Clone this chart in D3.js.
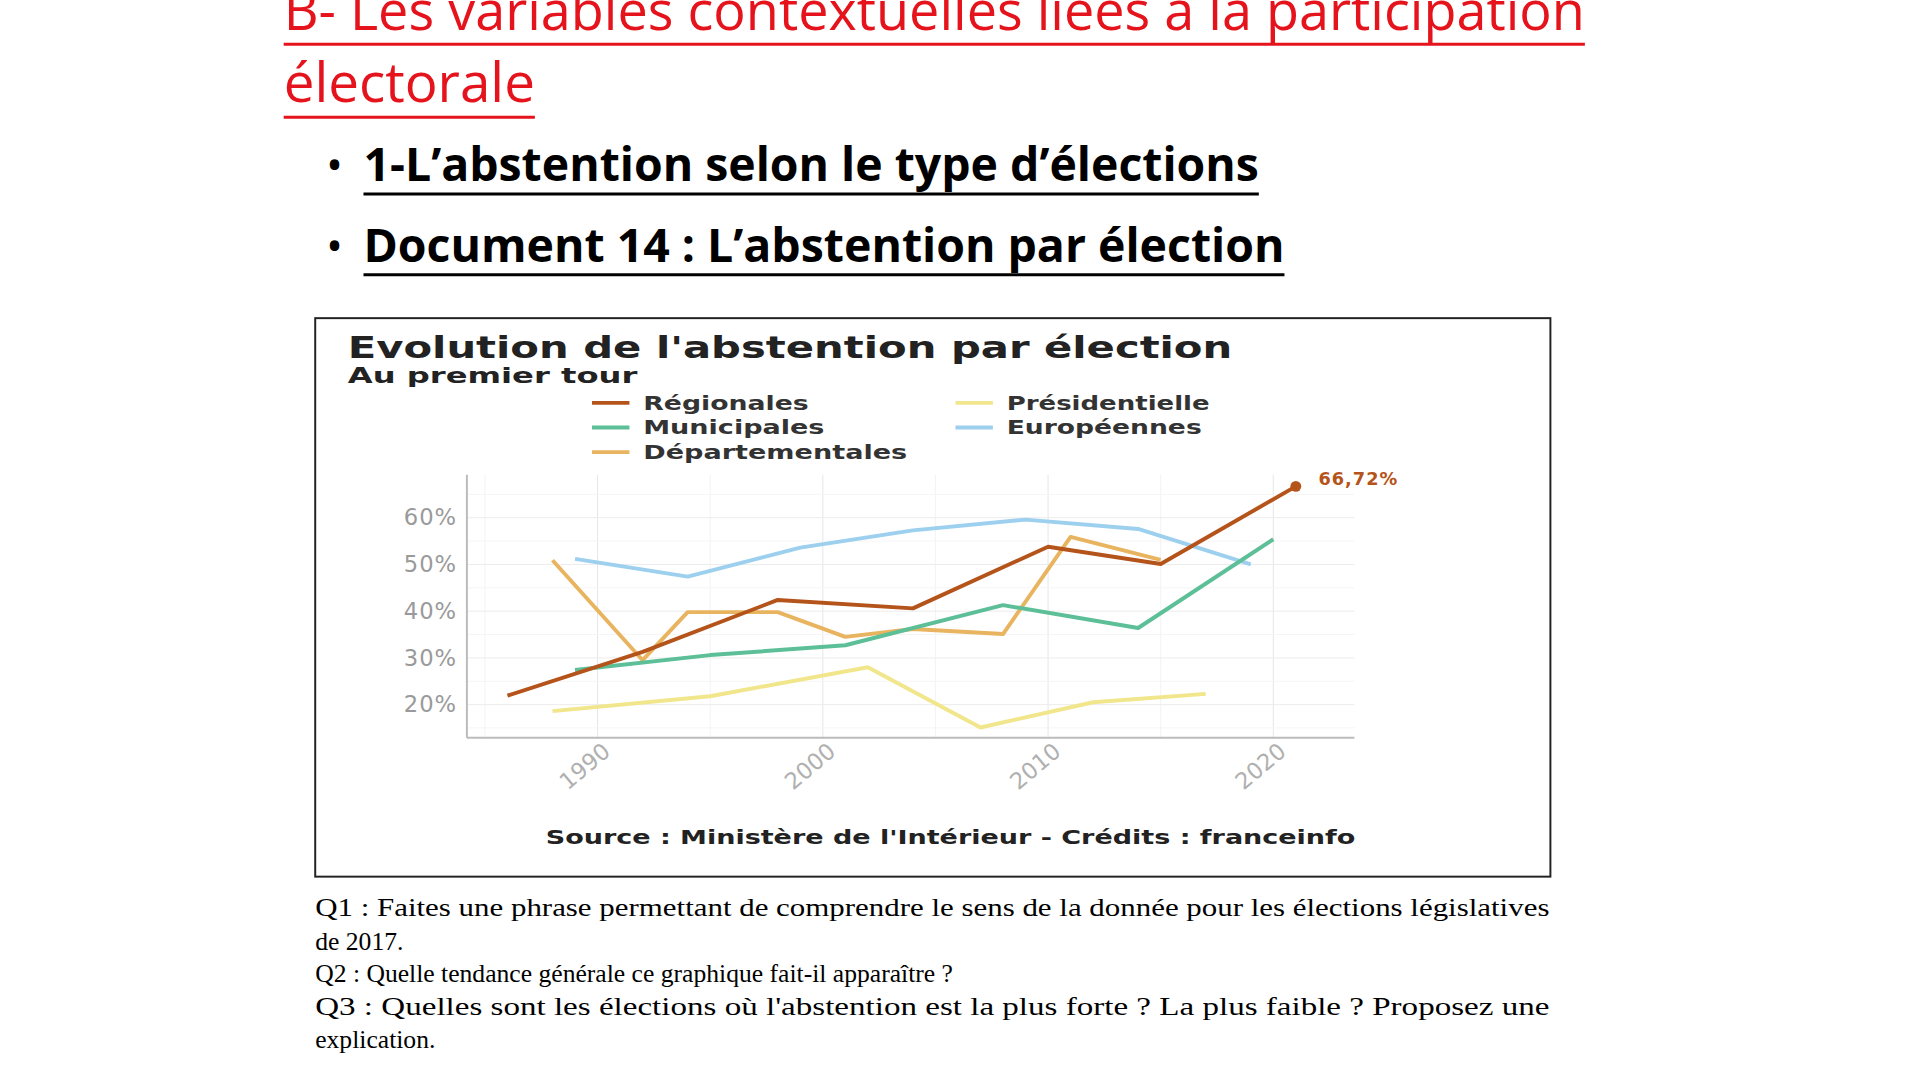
<!DOCTYPE html>
<html><head><meta charset="utf-8">
<script src="https://cdn.jsdelivr.net/npm/d3@7"></script>
<style>body{margin:0;background:#fff}</style></head>
<body><svg id="c" width="1920" height="1080"></svg>
<script>
const regionales = [[1986,21.9],[1992,31.3],[1998,42.4],[2004,40.6],[2010,53.8],[2015,50.1],[2021,66.72]];
const municipales = [[1989,27.4],[1995,30.6],[2001,32.7],[2008,41.3],[2014,36.4],[2020,55.4]];
const departementales = [[1988,50.9],[1992,29.5],[1994,39.8],[1998,39.8],[2001,34.5],[2004,36.2],[2008,35.1],[2011,55.9],[2015,51.0]];
const presidentielle = [[1988,18.6],[1995,21.8],[2002,28.0],[2007,15.1],[2012,20.5],[2017,22.3]];
const europeennes = [[1989,51.2],[1994,47.4],[1999,53.6],[2004,57.3],[2009,59.6],[2014,57.6],[2019,50.0]];
const seriesNames = ["Régionales","Municipales","Départementales","Présidentielle","Européennes"];
const seriesColors = ["#b5541a","#5cbf97","#e9b45f","#f1e68c","#9dd0ee"];
const xTicks = [1990,2000,2010,2020];
const yTicks = [20,30,40,50,60];

const root = d3.select("#c");
const svg = root.append("g").attr("transform","translate(1,0) scale(0.985)");
function txt(x,y,s,size,opt={}){
  const t=svg.append("text").attr("x",x).attr("y",y).text(s).attr("font-size",size)
   .attr("font-family",opt.ff||"Open Sans, sans-serif").attr("fill",opt.fill||"#000")
   .attr("font-weight",opt.fw||"normal");
  if(opt.len) t.attr("textLength",opt.len).attr("lengthAdjust","spacingAndGlyphs");
  if(opt.anchor) t.attr("text-anchor",opt.anchor);
  return t;
}
const red="#e5131b";
txt(287,30,"B- Les variables contextuelles liées à la participation",56,{fill:red,len:1321});
svg.append("line").attr("x1",287).attr("x2",1608).attr("y1",45).attr("y2",45).attr("stroke",red).attr("stroke-width",3);
txt(287,104,"électorale",56,{fill:red,len:255});
svg.append("line").attr("x1",287).attr("x2",542).attr("y1",119).attr("y2",119).attr("stroke",red).attr("stroke-width",3);
txt(330,184,"•",46,{});
txt(368,184,"1-L’abstention selon le type d’élections",48,{fw:"bold",len:909});
svg.append("line").attr("x1",368).attr("x2",1277).attr("y1",197).attr("y2",197).attr("stroke","#000").attr("stroke-width",3);
txt(330,266,"•",46,{});
txt(368,266,"Document 14 : L’abstention par élection",48,{fw:"bold",len:935});
svg.append("line").attr("x1",368).attr("x2",1303).attr("y1",279).attr("y2",279).attr("stroke","#000").attr("stroke-width",3);

svg.append("rect").attr("x",319).attr("y",323).attr("width",1254).attr("height",567).attr("fill","none").attr("stroke","#222").attr("stroke-width",2);
txt(352,363,"Evolution de l'abstention par élection",30,{fw:"bold",ff:"DejaVu Sans",len:898,fill:"#222"});
txt(352,389,"Au premier tour",22,{ff:"DejaVu Sans",len:294,fill:"#222",fw:"bold"});
const legPos=[[600,409],[600,434],[600,459],[969,409],[969,434]];
const legLen=[168,184,268,206,198];
seriesNames.forEach((n,i)=>{
  const [lx,ly]=legPos[i];
  svg.append("line").attr("x1",lx).attr("x2",lx+38).attr("y1",ly).attr("y2",ly).attr("stroke",seriesColors[i]).attr("stroke-width",4);
  txt(lx+52,ly+7,n,20,{ff:"DejaVu Sans",fill:"#333",fw:"bold",len:legLen[i]});
});

const x=d3.scaleLinear().domain([1984.2,2023.6]).range([473,1374]);
const y=d3.scaleLinear().domain([12.9,69.2]).range([749,482]);
const g=svg.append("g");
d3.range(1985,2024,5).forEach(v=>g.append("line").attr("x1",x(v)).attr("x2",x(v)).attr("y1",482).attr("y2",749).attr("stroke",v%10===0?"#e6e6e6":"#f3f3f3"));
d3.range(15,69,5).forEach(v=>g.append("line").attr("y1",y(v)).attr("y2",y(v)).attr("x1",473).attr("x2",1374).attr("stroke",v%10===0?"#ececec":"#f5f5f5"));
g.append("line").attr("x1",473).attr("x2",473).attr("y1",482).attr("y2",749).attr("stroke","#bbb").attr("stroke-width",2);
g.append("line").attr("x1",473).attr("x2",1374).attr("y1",749).attr("y2",749).attr("stroke","#bbb").attr("stroke-width",2);
const yAxis=g.append("g").attr("transform","translate(473,0)").call(d3.axisLeft(y).tickValues(yTicks).tickFormat(d=>d+"%").tickSize(0).tickPadding(10));
yAxis.select(".domain").remove();
yAxis.selectAll("text").attr("font-size",23).attr("fill","#9a9a9a").attr("font-family","DejaVu Sans").attr("letter-spacing",1);
const xAxis=g.append("g").attr("transform","translate(0,749)").call(d3.axisBottom(x).tickValues(xTicks).tickFormat(d3.format("d")).tickSize(0));
xAxis.select(".domain").remove();
xAxis.selectAll("text").attr("font-size",23).attr("fill","#b0b0b0").attr("font-family","DejaVu Sans")
  .attr("text-anchor","end").attr("dy",0).attr("transform","translate(12,14) rotate(-40)");
const line=d3.line().x(d=>x(d[0])).y(d=>y(d[1]));
const data=[regionales,municipales,departementales,presidentielle,europeennes];
[4,3,2,1,0].forEach(i=>g.append("path").datum(data[i]).attr("d",line).attr("fill","none").attr("stroke",seriesColors[i]).attr("stroke-width",4).attr("stroke-linejoin","round"));
const last=regionales[regionales.length-1];
g.append("circle").attr("cx",x(last[0])).attr("cy",y(last[1])).attr("r",5.5).attr("fill",seriesColors[0]);
txt(x(last[0])+23,y(last[1])-1,"66,72%",18,{ff:"DejaVu Sans",fw:"bold",fill:seriesColors[0]}).attr("letter-spacing",1);
txt(964,857,"Source : Ministère de l'Intérieur - Crédits : franceinfo",19,{ff:"DejaVu Sans",fw:"bold",anchor:"middle",fill:"#222",len:822});

const qf="Liberation Serif, serif";
txt(319,930,"Q1 : Faites une phrase permettant de comprendre le sens de la donnée pour les élections législatives",26,{ff:qf,len:1253});
txt(319,964,"de 2017.",26,{ff:qf});
txt(319,997,"Q2 : Quelle tendance générale ce graphique fait-il apparaître ?",26,{ff:qf});
txt(319,1030,"Q3 : Quelles sont les élections où l'abstention est la plus forte ? La plus faible ? Proposez une",26,{ff:qf,len:1253});
txt(319,1064,"explication.",26,{ff:qf});
</script></body></html>
